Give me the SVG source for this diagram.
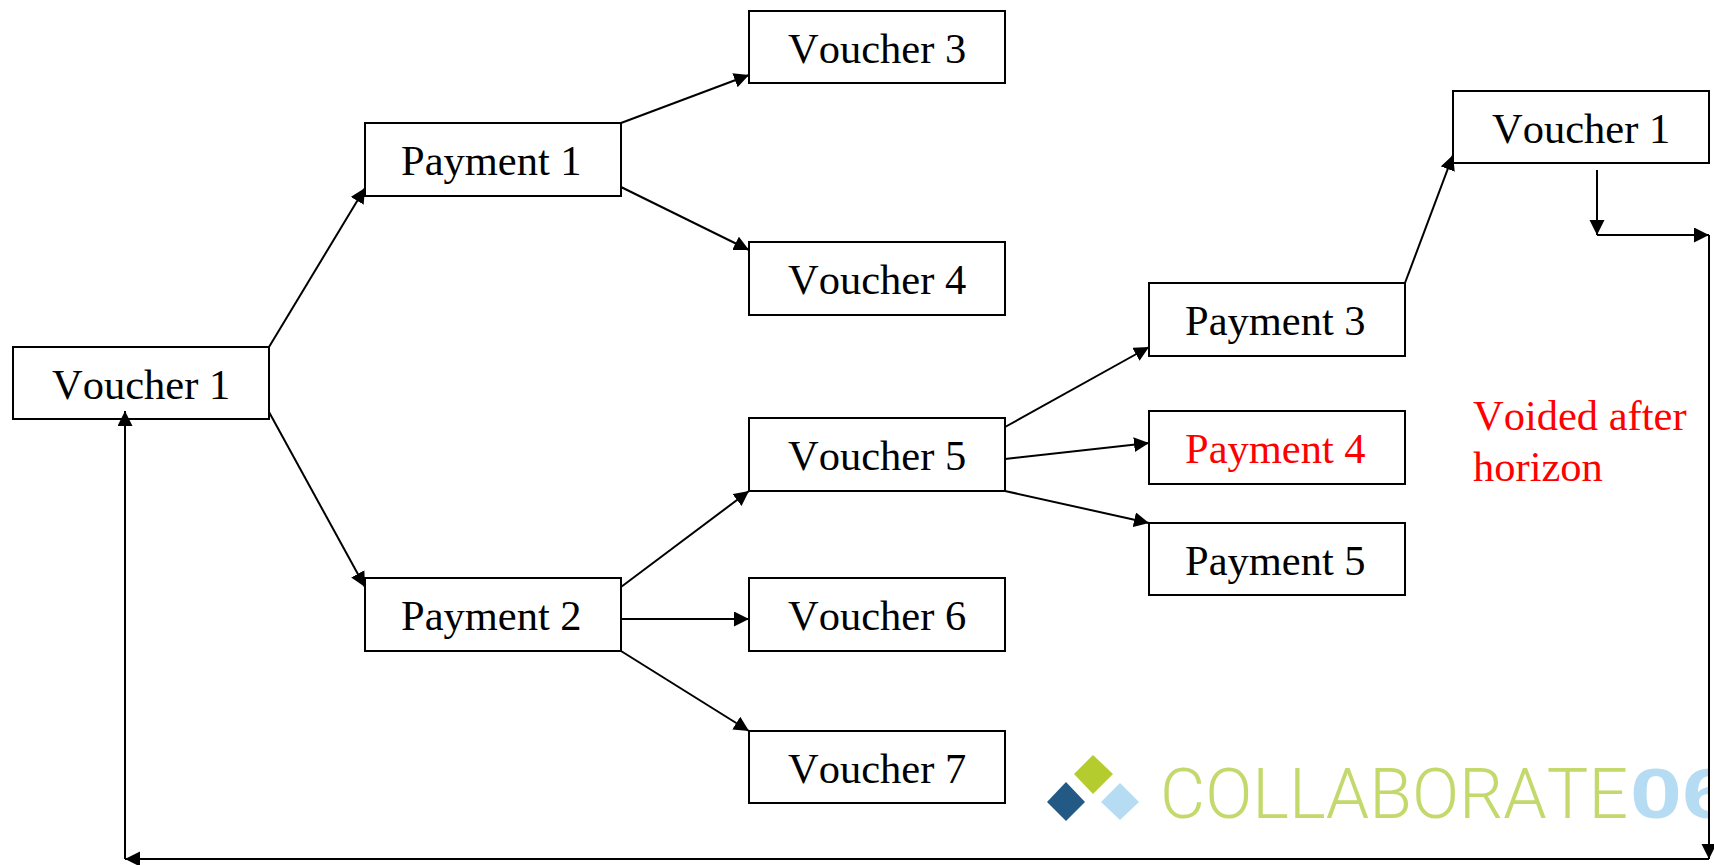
<svg xmlns="http://www.w3.org/2000/svg" width="1714" height="865" viewBox="0 0 1714 865">
<style>
.n rect{fill:#fff;stroke:#000;stroke-width:2}
text{font-family:"Liberation Serif","Times New Roman",serif;font-size:42.5px;fill:#000;font-kerning:none}
.red{fill:#f00}
#connectors path{fill:none;stroke:#000;stroke-width:2}
.a{marker-end:url(#ah)}
#logo text.logo{font-family:Roboto,"Liberation Sans",sans-serif;font-size:70px;font-weight:300;fill:#c3d96b}
#logo text.yr{font-family:"Liberation Sans",sans-serif;font-size:71px;font-weight:700;fill:#b5dcf3}
</style>
<defs><marker id="ah" markerUnits="userSpaceOnUse" markerWidth="16" markerHeight="16" refX="15" refY="7.5" orient="auto"><path d="M0 0L15 7.5L0 15Z" fill="#000"/></marker>
<clipPath id="lc"><rect x="1100" y="740" width="609" height="100"/></clipPath></defs>
<rect width="1714" height="865" fill="#fff"/>
<g id="n1" class="n"><rect x="13" y="347" width="256" height="72"/><text x="52" y="399">Voucher 1</text></g>
<g id="n2" class="n"><rect x="365" y="123" width="256" height="73"/><text x="401" y="175">Payment 1</text></g>
<g id="n3" class="n"><rect x="365" y="578" width="256" height="73"/><text x="401" y="630">Payment 2</text></g>
<g id="n4" class="n"><rect x="749" y="11" width="256" height="72"/><text x="788" y="63">Voucher 3</text></g>
<g id="n5" class="n"><rect x="749" y="242" width="256" height="73"/><text x="788" y="294">Voucher 4</text></g>
<g id="n6" class="n"><rect x="749" y="418" width="256" height="73"/><text x="788" y="470">Voucher 5</text></g>
<g id="n7" class="n"><rect x="749" y="578" width="256" height="73"/><text x="788" y="630">Voucher 6</text></g>
<g id="n8" class="n"><rect x="749" y="731" width="256" height="72"/><text x="788" y="783">Voucher 7</text></g>
<g id="n9" class="n"><rect x="1149" y="283" width="256" height="73"/><text x="1185" y="335">Payment 3</text></g>
<g id="n10" class="n"><rect x="1149" y="411" width="256" height="73"/><text class="red" x="1185" y="463">Payment 4</text></g>
<g id="n11" class="n"><rect x="1149" y="523" width="256" height="72"/><text x="1185" y="575">Payment 5</text></g>
<g id="n12" class="n"><rect x="1453" y="91" width="256" height="72"/><text x="1492" y="143">Voucher 1</text></g>
<g id="note"><text class="red" x="1473" y="430">Voided after</text><text class="red" x="1473" y="481">horizon</text></g>
<g id="logo">
<polygon points="1093,755 1113,774 1093,794 1074,774" fill="#b5cc2e"/>
<polygon points="1066,782 1085,802 1066,821 1047,802" fill="#235a85"/>
<polygon points="1120,783 1139,802 1120,820 1101,802" fill="#b5dcf3"/>
<text class="logo" x="1160" y="818" textLength="468" lengthAdjust="spacingAndGlyphs">COLLABORATE</text>
<g clip-path="url(#lc)"><text class="yr" x="1630" y="818" textLength="104" lengthAdjust="spacingAndGlyphs">06</text></g>
</g>
<g id="connectors">
<path class="a" d="M269 347L365 188"/>
<path class="a" d="M269 412L365 587"/>
<path class="a" d="M621 123L749 75"/>
<path class="a" d="M621 187L749 250"/>
<path class="a" d="M621 587L749 491"/>
<path class="a" d="M621 619L749 619"/>
<path class="a" d="M621 651L749 731"/>
<path class="a" d="M1005 427L1149 347"/>
<path class="a" d="M1005 459L1149 443"/>
<path class="a" d="M1005 491L1149 523"/>
<path class="a" d="M1405 283L1453 155"/>
<path class="a" d="M1597 170L1597 235"/>
<path class="a" d="M1597 235L1709 235"/>
<path class="a" d="M1709 235L1709 859"/>
<path class="a" d="M1709 859L125 859"/>
<path class="a" d="M125 859L125 411"/>
</g>
</svg>
